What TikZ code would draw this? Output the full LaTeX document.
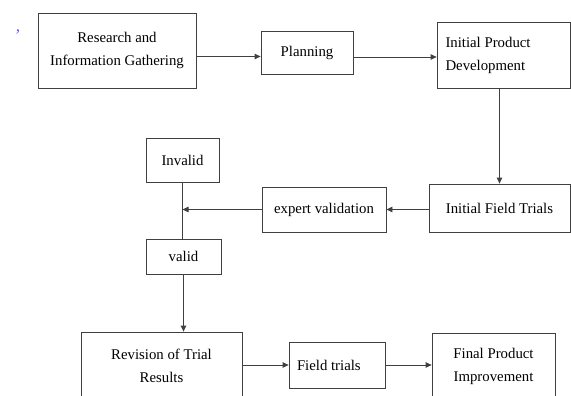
\documentclass[tikz,border=0pt]{standalone}
\usepackage{fontspec}
\setmainfont{Liberation Serif}
\usepackage{xcolor}
\usetikzlibrary{arrows.meta}

\begin{document}
\begin{tikzpicture}[x=1pt, y=-1pt,
  font=\fontsize{14.8}{23}\selectfont,
  st/.style={draw, thick, draw=black!75, rectangle, align=center, inner sep=0pt},
  stl/.style={st, align=flush left, text width=#1},
  arr/.style={-{Triangle[length=6pt, width=5.5pt]}, thick, black!75}]
\clip (0,0) rectangle (571,396);

% top row
\node[text=blue!65, font=\LARGE] (mark) at (18,32) {\textit{,}};
\node[st, minimum width=158pt, minimum height=75pt] (res) at (117,50.5)
  {Research and\\Information Gathering};
\node[st, minimum width=92pt, minimum height=43pt] (plan) at (307,52.5) {Planning};
\node[stl=116pt, minimum width=133pt, minimum height=66pt] (ipd) at (503.5,55)
  {Initial Product\\Development};
\draw[arr] ([yshift=-6pt]res.east) -- ([yshift=-6pt]res.east -| plan.west);
\draw[arr] ([yshift=-4.5pt]plan.east) -- ([yshift=-4.5pt]plan.east -| ipd.west);

% middle: validation
\node[st, minimum width=141pt, minimum height=48pt] (ift) at (499.5,208)
  {Initial Field Trials};
\node[st, minimum width=124pt, minimum height=45pt] (exp) at (324,209.5) {expert validation};
\node[st, minimum width=73pt, minimum height=44pt] (inv) at (182.5,160) {Invalid};
\node[st, minimum width=75pt, minimum height=35pt] (val) at (183.5,256.5) {valid};
\coordinate (jn) at (inv.south |- exp.west);
\draw[arr] (ipd.south -| ift.north) -- (ift.north);
\draw[arr] (exp.east -| ift.west) -- (exp.east);
\draw[arr] (exp.west) -- (jn);
\draw[thick, black!75] (inv.south) -- (inv.south |- val.north);

% bottom row
\node[st, minimum width=161pt, minimum height=68pt] (rev) at (161.5,366)
  {Revision of Trial\\Results};
\node[stl=80pt, minimum width=96pt, minimum height=46pt] (ft) at (337,365) {Field trials};
\node[st, minimum width=123pt, minimum height=66pt] (fin) at (493.5,366)
  {Final Product\\Improvement};
\draw[arr] (val.south) -- (val.south |- rev.north);
\draw[arr] (ft.west -| rev.east) -- (ft.west);
\draw[arr] (ft.east) -- (ft.east -| fin.west);
\end{tikzpicture}
\end{document}
